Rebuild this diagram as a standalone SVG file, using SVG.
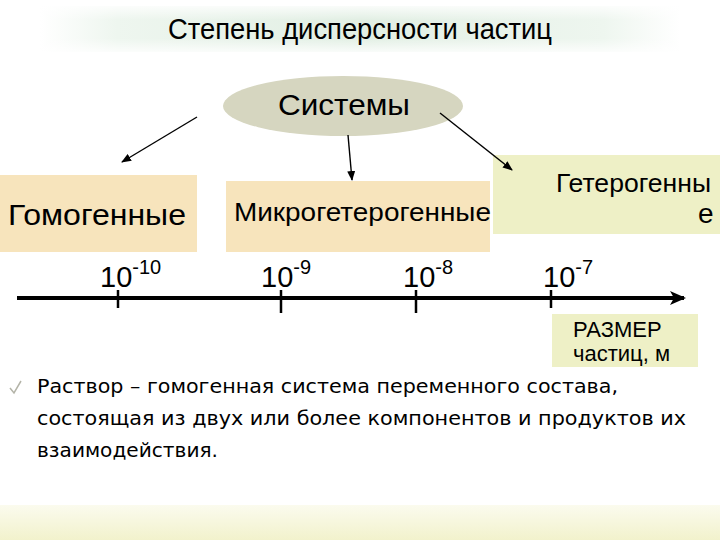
<svg xmlns="http://www.w3.org/2000/svg" width="720" height="540" viewBox="0 0 720 540">
<defs>
<linearGradient id="titleG" x1="0" y1="0" x2="1" y2="0">
<stop offset="0" stop-color="#ffffff"/>
<stop offset="0.12" stop-color="#eef6ef"/>
<stop offset="0.5" stop-color="#e2efe4"/>
<stop offset="0.88" stop-color="#eef6ef"/>
<stop offset="1" stop-color="#ffffff"/>
</linearGradient>
<linearGradient id="titleV" x1="0" y1="0" x2="0" y2="1">
<stop offset="0" stop-color="#ffffff" stop-opacity="0.8"/>
<stop offset="0.3" stop-color="#ffffff" stop-opacity="0"/>
<stop offset="0.7" stop-color="#ffffff" stop-opacity="0"/>
<stop offset="1" stop-color="#ffffff" stop-opacity="0.8"/>
</linearGradient>
<linearGradient id="botG" x1="0" y1="0" x2="0" y2="1">
<stop offset="0" stop-color="#fbfbee"/>
<stop offset="1" stop-color="#f2f2cc"/>
</linearGradient>
<marker id="ah" markerWidth="10" markerHeight="8" refX="9" refY="4" orient="auto" markerUnits="userSpaceOnUse">
<path d="M0,0 L10,4 L0,8 Z" fill="#000"/>
</marker>
<marker id="axh" markerWidth="16" markerHeight="14" refX="14" refY="7" orient="auto" markerUnits="userSpaceOnUse">
<path d="M0,0 L16,7 L0,14 L4,7 Z" fill="#000"/>
</marker>
</defs>
<style>
.t{font-family:"Liberation Sans",Arial,sans-serif;fill:#000}
.b{font-family:"DejaVu Sans",Verdana,sans-serif;fill:#000;font-size:19px}
.peach{fill:#f7e4bc}
.yel{fill:#eef0c6}
</style>
<rect x="0" y="0" width="720" height="540" fill="#fff"/>
<g id="title">
<rect x="40" y="6" width="640" height="46" fill="url(#titleG)"/>
<rect x="40" y="6" width="640" height="46" fill="url(#titleV)"/>
<text class="t" x="168" y="39" font-size="29" textLength="384" lengthAdjust="spacingAndGlyphs">Степень дисперсности частиц</text>
</g>
<g id="systems">
<ellipse cx="343" cy="106" rx="120" ry="30" fill="#d6d6c0"/>
<text class="t" x="278" y="115" font-size="29" textLength="132" lengthAdjust="spacingAndGlyphs">Системы</text>
</g>
<g id="homo">
<rect class="peach" x="0" y="175" width="197" height="77"/>
<text class="t" x="8" y="225" font-size="30" textLength="178" lengthAdjust="spacingAndGlyphs">Гомогенные</text>
</g>
<g id="micro">
<rect class="peach" x="226" y="181" width="264" height="71"/>
<text class="t" x="234" y="221" font-size="25" textLength="257" lengthAdjust="spacingAndGlyphs">Микрогетерогенные</text>
</g>
<g id="hetero">
<rect class="yel" x="493" y="155" width="227" height="79"/>
<text class="t" x="556" y="192" font-size="26" textLength="155" lengthAdjust="spacingAndGlyphs">Гетерогенны</text>
<text class="t" x="698" y="223" font-size="28">е</text>
</g>
<g id="connectors" stroke="#000" fill="none">
<line x1="197" y1="117" x2="122" y2="162" stroke-width="1.4" marker-end="url(#ah)"/>
<line x1="348" y1="135" x2="352" y2="180" stroke-width="1.4" marker-end="url(#ah)"/>
<line x1="440" y1="113" x2="512" y2="170" stroke-width="1.4" marker-end="url(#ah)"/>
</g>
<g id="axis">
<line x1="17" y1="298" x2="684" y2="298" stroke="#000" stroke-width="4" marker-end="url(#axh)"/>
<g stroke="#000" stroke-width="2.5">
<line x1="118" y1="290" x2="118" y2="308"/>
<line x1="281" y1="290" x2="281" y2="313"/>
<line x1="416" y1="290" x2="416" y2="313"/>
<line x1="551" y1="290" x2="551" y2="308"/>
</g>
<text class="t" x="100" y="287" font-size="29">10<tspan font-size="20" dy="-13">-10</tspan></text>
<text class="t" x="261" y="287" font-size="29">10<tspan font-size="20" dy="-13">-9</tspan></text>
<text class="t" x="403" y="287" font-size="29">10<tspan font-size="20" dy="-13">-8</tspan></text>
<text class="t" x="543" y="287" font-size="29">10<tspan font-size="20" dy="-13">-7</tspan></text>
</g>
<g id="size">
<rect class="yel" x="552" y="314" width="146" height="53"/>
<text class="t" x="573" y="337" font-size="22">РАЗМЕР</text>
<text class="t" x="573" y="361" font-size="22">частиц, м</text>
</g>
<g id="note">
<path d="M10,388 L14,393 L21,381" stroke="#b4b4a8" stroke-width="1.5" fill="none"/>
<text class="b" x="37" y="393" textLength="581" lengthAdjust="spacingAndGlyphs">Раствор – гомогенная система переменного состава,</text>
<text class="b" x="37" y="425" textLength="649" lengthAdjust="spacingAndGlyphs">состоящая из двух или более компонентов и продуктов их</text>
<text class="b" x="37" y="457" textLength="181" lengthAdjust="spacingAndGlyphs">взаимодействия.</text>
</g>
<rect x="0" y="505" width="720" height="35" fill="url(#botG)"/>
</svg>
